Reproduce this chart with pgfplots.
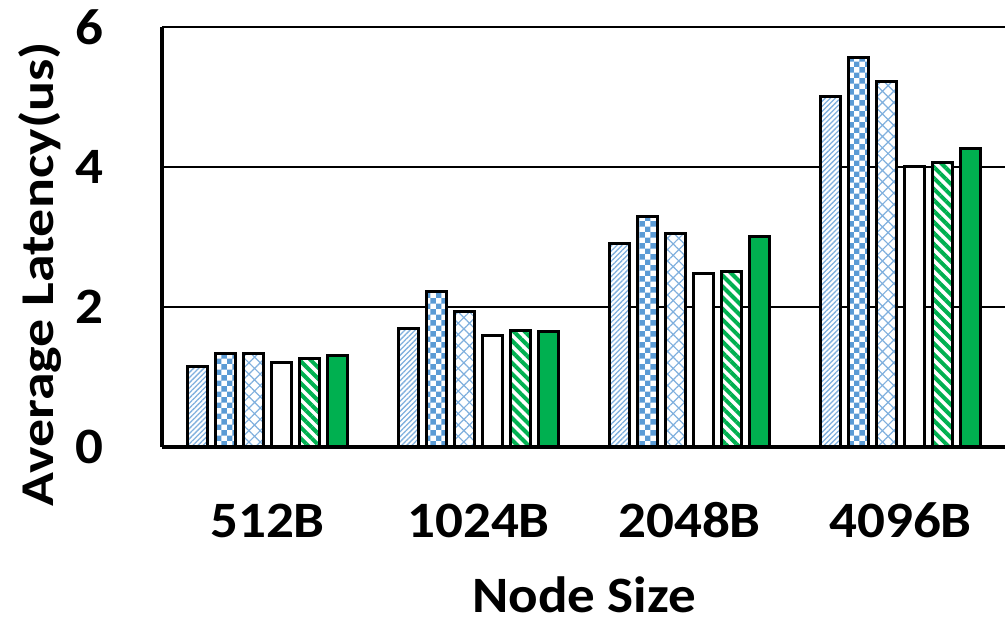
\documentclass[border=0pt]{standalone}
\usepackage{fontspec}
\setmainfont{Carlito}
\usepackage{pgfplots}
\pgfplotsset{compat=1.18}
\usetikzlibrary{patterns,patterns.meta}
\definecolor{cblue}{HTML}{5B9BD5}
\definecolor{clblue}{HTML}{80B0DE}
\definecolor{cgreen}{HTML}{00B050}
\pgfdeclarepatternformonly{mycheck}{\pgfpointorigin}{\pgfqpoint{11.4pt}{11.4pt}}{\pgfqpoint{11.4pt}{11.4pt}}{%
  \pgfpathrectangle{\pgfpointorigin}{\pgfqpoint{5.7pt}{5.7pt}}%
  \pgfpathrectangle{\pgfqpoint{5.7pt}{5.7pt}}{\pgfqpoint{5.7pt}{5.7pt}}%
  \pgfusepath{fill}}
\begin{document}
\begin{tikzpicture}
\begin{axis}[
  at={(162pt,176pt)}, anchor=south west,
  scale only axis, width=844pt, height=420pt,
  xmin=-0.5, xmax=3.5, ymin=0, ymax=6,
  xtick={0,1,2,3}, xticklabels={512B,1024B,2048B,4096B},
  ytick={0,2,4,6},
  major tick length=0pt,
  axis x line*=bottom, axis y line*=left,
  x axis line style={line width=4pt,-},
  y axis line style={line width=3.5pt,-},
  ymajorgrids, grid style={black, line width=2.5pt},
  /pgf/number format/assume math mode=true,
  tick label style={font=\fontsize{51}{51}\selectfont\bfseries, xscale=1.08},
  yticklabel style={anchor=east, inner sep=0pt, xshift=-54pt},
  xticklabel style={anchor=base, inner sep=0pt, yshift=-91pt},
  xlabel={Node Size}, ylabel={Average Latency(us)},
  every axis x label/.style={at={(axis description cs:0.5,-0.393)}, anchor=base,
     font=\fontsize{51}{51}\selectfont\bfseries, xscale=1.08},
  every axis y label/.style={at={(axis description cs:-0.1291,0.412)}, anchor=base, rotate=90,
     font=\fontsize{47}{47}\selectfont\bfseries, xscale=1.19},
  ybar, bar width=20pt,
  every axis plot/.append style={draw=black, line width=3pt},
  clip=false,
]
\addplot[bar shift=-70pt, fill=white, postaction={pattern={Lines[angle=45,distance=3.6pt,line width=1.3pt]}, pattern color=clblue}]
  coordinates {(0,1.15) (1,1.69) (2,2.90) (3,5.00)};
\addplot[bar shift=-42pt, fill=white, postaction={pattern=mycheck, pattern color=cblue}]
  coordinates {(0,1.33) (1,2.22) (2,3.29) (3,5.56)};
\addplot[bar shift=-14pt, fill=white, postaction={pattern={Hatch[angle=45,distance=8pt,line width=1.2pt]}, pattern color=clblue}]
  coordinates {(0,1.33) (1,1.94) (2,3.05) (3,5.22)};
\addplot[bar shift=14pt, fill=white]
  coordinates {(0,1.20) (1,1.59) (2,2.48) (3,4.00)};
\addplot[bar shift=42pt, fill=white, postaction={pattern={Lines[angle=-45,distance=7.8pt,line width=4pt]}, pattern color=cgreen}]
  coordinates {(0,1.27) (1,1.67) (2,2.50) (3,4.07)};
\addplot[bar shift=70pt, fill=cgreen]
  coordinates {(0,1.31) (1,1.65) (2,3.00) (3,4.26)};
\end{axis}
\pgfresetboundingbox
\useasboundingbox (0,0) rectangle (1005pt,623pt);
\end{tikzpicture}
\end{document}
